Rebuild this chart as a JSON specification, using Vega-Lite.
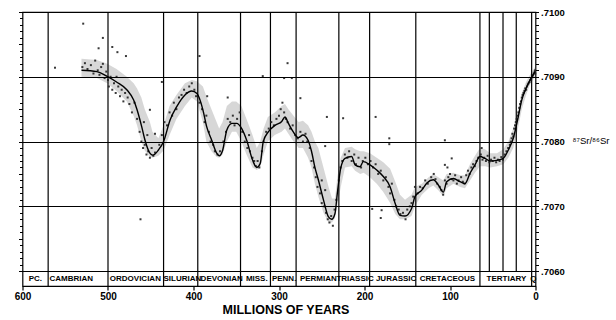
{
  "$schema": "https://vega.github.io/schema/vega-lite/v6.json",
  "width": 513,
  "height": 274,
  "autosize": {"type": "none"},
  "padding": {"left": 22.5, "top": 12, "right": 80.5, "bottom": 34},
  "background": "white",
  "config": {
    "view": {"stroke": "black", "strokeWidth": 1.2},
    "font": "Liberation Sans"
  },
  "datasets": {
    "curve": [
      {"ma":531,"sr":0.70910},{"ma":513,"sr":0.70908},{"ma":501.5,"sr":0.70901},{"ma":490,"sr":0.70892},{"ma":478,"sr":0.70880},{"ma":470,"sr":0.70864},{"ma":466,"sr":0.70849},{"ma":460.6,"sr":0.70823},{"ma":456.7,"sr":0.70802},{"ma":451,"sr":0.70782},{"ma":447.7,"sr":0.70779},{"ma":441,"sr":0.70787},{"ma":435,"sr":0.70800},{"ma":427.5,"sr":0.70833},{"ma":419.6,"sr":0.70854},{"ma":410,"sr":0.70872},{"ma":402,"sr":0.70878},{"ma":396,"sr":0.70874},{"ma":389,"sr":0.70849},{"ma":384.6,"sr":0.70823},{"ma":378.7,"sr":0.70802},{"ma":372.9,"sr":0.70782},{"ma":369.8,"sr":0.70778},{"ma":365.8,"sr":0.70787},{"ma":361,"sr":0.70818},{"ma":355,"sr":0.70828},{"ma":349.5,"sr":0.70828},{"ma":343.6,"sr":0.70820},{"ma":337.8,"sr":0.70802},{"ma":330.8,"sr":0.70771},{"ma":326,"sr":0.70760},{"ma":322,"sr":0.70766},{"ma":318.4,"sr":0.70800},{"ma":312.5,"sr":0.70815},{"ma":304.7,"sr":0.70825},{"ma":296.8,"sr":0.70831},{"ma":293,"sr":0.70838},{"ma":289,"sr":0.70828},{"ma":283.3,"sr":0.70815},{"ma":277.4,"sr":0.70806},{"ma":272,"sr":0.70810},{"ma":266,"sr":0.70802},{"ma":262,"sr":0.70785},{"ma":258,"sr":0.70760},{"ma":254,"sr":0.70741},{"ma":248,"sr":0.70710},{"ma":242.3,"sr":0.70684},{"ma":238.4,"sr":0.70680},{"ma":234.5,"sr":0.70689},{"ma":231.8,"sr":0.70720},{"ma":227.8,"sr":0.70759},{"ma":222.8,"sr":0.70774},{"ma":215,"sr":0.70777},{"ma":211,"sr":0.70764},{"ma":205.3,"sr":0.70761},{"ma":201.4,"sr":0.70769},{"ma":193.6,"sr":0.70764},{"ma":185.7,"sr":0.70756},{"ma":178,"sr":0.70746},{"ma":170,"sr":0.70730},{"ma":164.3,"sr":0.70705},{"ma":158.5,"sr":0.70686},{"ma":152.6,"sr":0.70685},{"ma":144.8,"sr":0.70697},{"ma":141,"sr":0.70715},{"ma":133,"sr":0.70725},{"ma":127,"sr":0.70736},{"ma":119.5,"sr":0.70741},{"ma":113.7,"sr":0.70733},{"ma":107.8,"sr":0.70722},{"ma":103.9,"sr":0.70738},{"ma":96,"sr":0.70743},{"ma":88.3,"sr":0.70738},{"ma":82.5,"sr":0.70735},{"ma":76.6,"sr":0.70751},{"ma":70.8,"sr":0.70764},{"ma":65,"sr":0.70777},{"ma":59,"sr":0.70774},{"ma":53.2,"sr":0.70770},{"ma":45.4,"sr":0.70771},{"ma":37.7,"sr":0.70774},{"ma":31.8,"sr":0.70787},{"ma":26,"sr":0.70805},{"ma":21.3,"sr":0.70831},{"ma":16.1,"sr":0.70864},{"ma":11.1,"sr":0.70882},{"ma":6.4,"sr":0.70895},{"ma":0.6,"sr":0.70908}
    ],
    "band": [
      {"ma":531,"lo":0.70900,"hi":0.70928},{"ma":513,"lo":0.70898,"hi":0.70926},{"ma":501,"lo":0.70890,"hi":0.70920},{"ma":490,"lo":0.70878,"hi":0.70912},{"ma":478,"lo":0.70862,"hi":0.70900},{"ma":470,"lo":0.70840,"hi":0.70890},{"ma":466,"lo":0.70825,"hi":0.70882},{"ma":461,"lo":0.70800,"hi":0.70868},{"ma":457,"lo":0.70786,"hi":0.70850},{"ma":451,"lo":0.70776,"hi":0.70830},{"ma":448,"lo":0.70775,"hi":0.70815},{"ma":441,"lo":0.70778,"hi":0.70805},{"ma":435,"lo":0.70786,"hi":0.70825},{"ma":428,"lo":0.70810,"hi":0.70855},{"ma":420,"lo":0.70835,"hi":0.70872},{"ma":410,"lo":0.70855,"hi":0.70890},{"ma":402,"lo":0.70868,"hi":0.70895},{"ma":396,"lo":0.70862,"hi":0.70893},{"ma":389,"lo":0.70830,"hi":0.70885},{"ma":385,"lo":0.70800,"hi":0.70870},{"ma":379,"lo":0.70785,"hi":0.70850},{"ma":373,"lo":0.70776,"hi":0.70830},{"ma":370,"lo":0.70775,"hi":0.70820},{"ma":366,"lo":0.70780,"hi":0.70830},{"ma":361,"lo":0.70800,"hi":0.70855},{"ma":355,"lo":0.70815,"hi":0.70862},{"ma":350,"lo":0.70815,"hi":0.70862},{"ma":344,"lo":0.70800,"hi":0.70855},{"ma":338,"lo":0.70780,"hi":0.70835},{"ma":331,"lo":0.70760,"hi":0.70810},{"ma":326,"lo":0.70756,"hi":0.70790},{"ma":322,"lo":0.70760,"hi":0.70800},{"ma":318,"lo":0.70780,"hi":0.70820},{"ma":313,"lo":0.70800,"hi":0.70838},{"ma":305,"lo":0.70810,"hi":0.70845},{"ma":297,"lo":0.70815,"hi":0.70855},{"ma":293,"lo":0.70820,"hi":0.70858},{"ma":289,"lo":0.70812,"hi":0.70850},{"ma":283,"lo":0.70800,"hi":0.70840},{"ma":277,"lo":0.70790,"hi":0.70830},{"ma":272,"lo":0.70790,"hi":0.70832},{"ma":266,"lo":0.70775,"hi":0.70825},{"ma":262,"lo":0.70760,"hi":0.70815},{"ma":258,"lo":0.70735,"hi":0.70800},{"ma":254,"lo":0.70715,"hi":0.70790},{"ma":248,"lo":0.70690,"hi":0.70760},{"ma":242,"lo":0.70675,"hi":0.70730},{"ma":238,"lo":0.70675,"hi":0.70712},{"ma":234.5,"lo":0.70682,"hi":0.70712},{"ma":231.8,"lo":0.70700,"hi":0.70745},{"ma":227.8,"lo":0.70730,"hi":0.70775},{"ma":222.8,"lo":0.70760,"hi":0.70790},{"ma":215,"lo":0.70762,"hi":0.70792},{"ma":211,"lo":0.70755,"hi":0.70788},{"ma":205,"lo":0.70750,"hi":0.70785},{"ma":201,"lo":0.70752,"hi":0.70785},{"ma":193.6,"lo":0.70745,"hi":0.70782},{"ma":185.7,"lo":0.70735,"hi":0.70775},{"ma":178,"lo":0.70722,"hi":0.70768},{"ma":170,"lo":0.70705,"hi":0.70758},{"ma":164,"lo":0.70688,"hi":0.70738},{"ma":158.5,"lo":0.70680,"hi":0.70718},{"ma":152.6,"lo":0.70680,"hi":0.70710},{"ma":145,"lo":0.70685,"hi":0.70718},{"ma":141,"lo":0.70700,"hi":0.70730},{"ma":133,"lo":0.70718,"hi":0.70735},{"ma":125,"lo":0.70728,"hi":0.70745},{"ma":119.5,"lo":0.70732,"hi":0.70750},{"ma":113.7,"lo":0.70725,"hi":0.70745},{"ma":107.8,"lo":0.70715,"hi":0.70740},{"ma":104,"lo":0.70728,"hi":0.70750},{"ma":96,"lo":0.70735,"hi":0.70752},{"ma":88,"lo":0.70730,"hi":0.70748},{"ma":82.5,"lo":0.70728,"hi":0.70748},{"ma":76.6,"lo":0.70740,"hi":0.70765},{"ma":70.8,"lo":0.70752,"hi":0.70778},{"ma":65,"lo":0.70762,"hi":0.70790},{"ma":59,"lo":0.70762,"hi":0.70788},{"ma":53,"lo":0.70760,"hi":0.70782},{"ma":45,"lo":0.70762,"hi":0.70782},{"ma":37.7,"lo":0.70765,"hi":0.70788},{"ma":31.8,"lo":0.70775,"hi":0.70800},{"ma":26,"lo":0.70790,"hi":0.70820},{"ma":21.3,"lo":0.70815,"hi":0.70845},{"ma":16,"lo":0.70850,"hi":0.70875},{"ma":11,"lo":0.70872,"hi":0.70892},{"ma":6.4,"lo":0.70888,"hi":0.70903},{"ma":0.6,"lo":0.70900,"hi":0.70915}
    ],
    "pts": [
      {"ma":529,"sr":0.70982},{"ma":506,"sr":0.70960},{"ma":511,"sr":0.70944},{"ma":495,"sr":0.70946},{"ma":489,"sr":0.70938},{"ma":479,"sr":0.70932},{"ma":562,"sr":0.70914},{"ma":393,"sr":0.70932},{"ma":290,"sr":0.70921},{"ma":319,"sr":0.70901},{"ma":294,"sr":0.70898},{"ma":285,"sr":0.70898},{"ma":437,"sr":0.70892},{"ma":275,"sr":0.70867},{"ma":244,"sr":0.70838},{"ma":225,"sr":0.70836},{"ma":187,"sr":0.70838},{"ma":171,"sr":0.70805},{"ma":171,"sr":0.70796},{"ma":106,"sr":0.70802},{"ma":246,"sr":0.70793},{"ma":462,"sr":0.70680},{"ma":191,"sr":0.70696},{"ma":180,"sr":0.70694},{"ma":181,"sr":0.70682},
      {"ma":530,"sr":0.70915},{"ma":527,"sr":0.70921},{"ma":524,"sr":0.70912},{"ma":520,"sr":0.70918},{"ma":517,"sr":0.70905},{"ma":515,"sr":0.70925},{"ma":512,"sr":0.70910},{"ma":510,"sr":0.70903},{"ma":508,"sr":0.70915},{"ma":506,"sr":0.70920},{"ma":504,"sr":0.70898},{"ma":502,"sr":0.70908},{"ma":500,"sr":0.70895},{"ma":499,"sr":0.70885},{"ma":497,"sr":0.70900},{"ma":495,"sr":0.70880},{"ma":493,"sr":0.70890},{"ma":491,"sr":0.70875},{"ma":490,"sr":0.70900},{"ma":488,"sr":0.70885},{"ma":486,"sr":0.70870},{"ma":484,"sr":0.70880},{"ma":482,"sr":0.70862},{"ma":480,"sr":0.70875},{"ma":477,"sr":0.70868},{"ma":475,"sr":0.70858},{"ma":472,"sr":0.70845},{"ma":469,"sr":0.70860},
      {"ma":466,"sr":0.70835},{"ma":463,"sr":0.70815},{"ma":461,"sr":0.70800},{"ma":459,"sr":0.70790},{"ma":457,"sr":0.70795},{"ma":455,"sr":0.70780},{"ma":453,"sr":0.70785},{"ma":451,"sr":0.70775},{"ma":449,"sr":0.70790},{"ma":447,"sr":0.70778},{"ma":445,"sr":0.70783},{"ma":458,"sr":0.70830},{"ma":454,"sr":0.70810},{"ma":451,"sr":0.70849},{"ma":445,"sr":0.70812},
      {"ma":440,"sr":0.70795},{"ma":437,"sr":0.70810},{"ma":434,"sr":0.70830},{"ma":431,"sr":0.70825},{"ma":428,"sr":0.70845},{"ma":425,"sr":0.70840},{"ma":423,"sr":0.70860},{"ma":420,"sr":0.70850},{"ma":417,"sr":0.70868},{"ma":414,"sr":0.70872},{"ma":411,"sr":0.70880},{"ma":408,"sr":0.70875},{"ma":405,"sr":0.70885},{"ma":402,"sr":0.70890},{"ma":399,"sr":0.70880},{"ma":397,"sr":0.70870},
      {"ma":393,"sr":0.70860},{"ma":390,"sr":0.70850},{"ma":387,"sr":0.70830},{"ma":385,"sr":0.70840},{"ma":382,"sr":0.70815},{"ma":380,"sr":0.70800},{"ma":377,"sr":0.70795},{"ma":375,"sr":0.70785},{"ma":372,"sr":0.70780},{"ma":369,"sr":0.70785},{"ma":384,"sr":0.70870},
      {"ma":365,"sr":0.70800},{"ma":362,"sr":0.70815},{"ma":360,"sr":0.70835},{"ma":357,"sr":0.70830},{"ma":354,"sr":0.70840},{"ma":352,"sr":0.70825},{"ma":349,"sr":0.70835},{"ma":346,"sr":0.70845},{"ma":343,"sr":0.70815},{"ma":360,"sr":0.70868},
      {"ma":340,"sr":0.70800},{"ma":337,"sr":0.70790},{"ma":334,"sr":0.70785},{"ma":331,"sr":0.70775},{"ma":329,"sr":0.70770},{"ma":327,"sr":0.70762},{"ma":325,"sr":0.70770},{"ma":323,"sr":0.70760},{"ma":335,"sr":0.70810},
      {"ma":320,"sr":0.70785},{"ma":318,"sr":0.70800},{"ma":315,"sr":0.70815},{"ma":312,"sr":0.70820},{"ma":309,"sr":0.70830},{"ma":306,"sr":0.70825},{"ma":303,"sr":0.70835},{"ma":300,"sr":0.70840},{"ma":298,"sr":0.70850},{"ma":296,"sr":0.70860},{"ma":294,"sr":0.70845},{"ma":292,"sr":0.70835},{"ma":290,"sr":0.70830},{"ma":287,"sr":0.70820},{"ma":284,"sr":0.70825},{"ma":281,"sr":0.70810},{"ma":278,"sr":0.70805},{"ma":275,"sr":0.70815},{"ma":272,"sr":0.70800},{"ma":269,"sr":0.70812},{"ma":267,"sr":0.70800},
      {"ma":264,"sr":0.70790},{"ma":262,"sr":0.70770},{"ma":259,"sr":0.70760},{"ma":257,"sr":0.70745},{"ma":255,"sr":0.70730},{"ma":252,"sr":0.70720},{"ma":250,"sr":0.70705},{"ma":247,"sr":0.70700},{"ma":245,"sr":0.70690},{"ma":243,"sr":0.70680},{"ma":241,"sr":0.70675},{"ma":239,"sr":0.70685},{"ma":237,"sr":0.70670},{"ma":235,"sr":0.70695},{"ma":233,"sr":0.70710},{"ma":250,"sr":0.70740},{"ma":246,"sr":0.70725},
      {"ma":230,"sr":0.70740},{"ma":228,"sr":0.70760},{"ma":226,"sr":0.70770},{"ma":223,"sr":0.70780},{"ma":220,"sr":0.70775},{"ma":218,"sr":0.70785},{"ma":215,"sr":0.70770},{"ma":212,"sr":0.70780},{"ma":210,"sr":0.70765},{"ma":207,"sr":0.70775},{"ma":204,"sr":0.70760},{"ma":202,"sr":0.70770},{"ma":199,"sr":0.70775},{"ma":196,"sr":0.70765},
      {"ma":193,"sr":0.70770},{"ma":190,"sr":0.70760},{"ma":187,"sr":0.70765},{"ma":184,"sr":0.70750},{"ma":181,"sr":0.70755},{"ma":178,"sr":0.70740},{"ma":175,"sr":0.70745},{"ma":172,"sr":0.70730},{"ma":170,"sr":0.70720},{"ma":168,"sr":0.70735},{"ma":165,"sr":0.70710},{"ma":163,"sr":0.70700},{"ma":160,"sr":0.70695},{"ma":158,"sr":0.70688},{"ma":155,"sr":0.70690},{"ma":152,"sr":0.70680},{"ma":150,"sr":0.70695},{"ma":147,"sr":0.70700},{"ma":145,"sr":0.70705},{"ma":143,"sr":0.70715},{"ma":141,"sr":0.70730},
      {"ma":138,"sr":0.70720},{"ma":135,"sr":0.70730},{"ma":132,"sr":0.70728},{"ma":129,"sr":0.70740},{"ma":126,"sr":0.70735},{"ma":122,"sr":0.70745},{"ma":119,"sr":0.70750},{"ma":117,"sr":0.70742},{"ma":115,"sr":0.70735},{"ma":112,"sr":0.70730},{"ma":110,"sr":0.70725},{"ma":108,"sr":0.70718},{"ma":106,"sr":0.70740},{"ma":104,"sr":0.70735},{"ma":102,"sr":0.70745},{"ma":100,"sr":0.70750},{"ma":98,"sr":0.70742},{"ma":96,"sr":0.70740},{"ma":94,"sr":0.70748},{"ma":92,"sr":0.70735},{"ma":90,"sr":0.70740},{"ma":87,"sr":0.70745},{"ma":85,"sr":0.70738},{"ma":83,"sr":0.70735},{"ma":81,"sr":0.70748},{"ma":79,"sr":0.70755},{"ma":77,"sr":0.70750},{"ma":75,"sr":0.70760},{"ma":73,"sr":0.70765},{"ma":71,"sr":0.70762},{"ma":69,"sr":0.70770},{"ma":67,"sr":0.70775},{"ma":106,"sr":0.70764},{"ma":98,"sr":0.70774},{"ma":103,"sr":0.70760},
      {"ma":64,"sr":0.70780},{"ma":63,"sr":0.70790},{"ma":62,"sr":0.70772},{"ma":60,"sr":0.70775},{"ma":58,"sr":0.70770},{"ma":56,"sr":0.70778},{"ma":54,"sr":0.70768},{"ma":52,"sr":0.70772},{"ma":50,"sr":0.70770},{"ma":48,"sr":0.70775},{"ma":46,"sr":0.70768},{"ma":44,"sr":0.70772},{"ma":42,"sr":0.70770},{"ma":40,"sr":0.70776},{"ma":38,"sr":0.70772},{"ma":36,"sr":0.70780},{"ma":34,"sr":0.70785},{"ma":32,"sr":0.70790},{"ma":30,"sr":0.70795},{"ma":29,"sr":0.70800},{"ma":28,"sr":0.70805},{"ma":27,"sr":0.70812},{"ma":26,"sr":0.70808},{"ma":25,"sr":0.70820},{"ma":24,"sr":0.70825},{"ma":23,"sr":0.70830},{"ma":22,"sr":0.70835},{"ma":21,"sr":0.70840},{"ma":20,"sr":0.70845},{"ma":19,"sr":0.70852},{"ma":18,"sr":0.70858},{"ma":17,"sr":0.70862},{"ma":16,"sr":0.70868},{"ma":15,"sr":0.70872},{"ma":14,"sr":0.70875},{"ma":13,"sr":0.70878},{"ma":12,"sr":0.70882},{"ma":11,"sr":0.70880},{"ma":10,"sr":0.70885},{"ma":9,"sr":0.70888},{"ma":8,"sr":0.70890},{"ma":7,"sr":0.70892},{"ma":6,"sr":0.70895},{"ma":5,"sr":0.70898},{"ma":4,"sr":0.70900},{"ma":3,"sr":0.70902},{"ma":2,"sr":0.70905},{"ma":1,"sr":0.70908},{"ma":0.5,"sr":0.70910},{"ma":0.3,"sr":0.70905}
    ],
    "fullLines": [{"ma":570},{"ma":500},{"ma":435},{"ma":395},{"ma":345},{"ma":310},{"ma":280},{"ma":230},{"ma":194},{"ma":140},{"ma":65},{"ma":4.5}],
    "epochLines": [{"ma":54},{"ma":38},{"ma":22.5}],
    "labels": [
      {"ma":585,"name":"PC."},{"ma":543,"name":"CAMBRIAN"},{"ma":468,"name":"ORDOVICIAN"},{"ma":413,"name":"SILURIAN"},{"ma":367,"name":"DEVONIAN"},{"ma":326,"name":"MISS."},{"ma":294,"name":"PENN."},{"ma":254,"name":"PERMIAN"},{"ma":211,"name":"TRIASSIC"},{"ma":163,"name":"JURASSIC"},{"ma":103,"name":"CRETACEOUS"},{"ma":34,"name":"TERTIARY"},{"ma":2.6,"name":"Q"}
    ]
  },
  "resolve": {"axis": {"y": "independent"}},
  "layer": [
    {
      "data": {"name": "band"},
      "mark": {"type": "area", "color": "#cdcdcd", "opacity": 0.8},
      "encoding": {
        "x": {"field": "ma", "type": "quantitative", "scale": {"domain": [0, 600], "reverse": true, "nice": false, "zero": false},
          "axis": {"orient": "bottom", "values": [0,100,200,300,400,500,600], "domain": false, "grid": false, "tickSize": 4, "tickColor": "black", "tickWidth": 1.2, "labelFont": "Liberation Sans", "labelFontWeight": "bold", "labelFontSize": 10, "labelColor": "black", "labelPadding": 1, "labelFlush": false, "title": "MILLIONS OF YEARS", "titleFont": "Liberation Sans", "titleFontSize": 12.5, "titleFontWeight": "bold", "titleColor": "black", "titlePadding": 2, "titleX": 263}},
        "y": {"field": "lo", "type": "quantitative", "scale": {"domain": [0.70577, 0.7100], "nice": false, "zero": false},
          "axis": {"orient": "left", "values": [0.706,0.7061,0.7062,0.7063,0.7064,0.7065,0.7066,0.7067,0.7068,0.7069,0.707,0.7071,0.7072,0.7073,0.7074,0.7075,0.7076,0.7077,0.7078,0.7079,0.708,0.7081,0.7082,0.7083,0.7084,0.7085,0.7086,0.7087,0.7088,0.7089,0.709,0.7091,0.7092,0.7093,0.7094,0.7095,0.7096,0.7097,0.7098,0.7099,0.71],
            "labels": false, "domain": false, "title": null, "tickColor": "black", "tickWidth": 1,
            "tickSize": {"condition": {"test": "round(datum.value*10000) % 5 == 0", "value": 4}, "value": 3},
            "grid": true, "gridColor": "black", "gridWidth": 1.2,
            "gridOpacity": {"condition": {"test": "round(datum.value*10000) % 10 == 0", "value": 1}, "value": 0},
            "zindex": 1}},
        "y2": {"field": "hi"}
      }
    },
    {
      "data": {"name": "fullLines"},
      "mark": {"type": "rule", "color": "black", "strokeWidth": 1.2},
      "encoding": {
        "x": {"field": "ma", "type": "quantitative", "scale": {"domain": [0, 600], "reverse": true, "nice": false, "zero": false}}
      }
    },
    {
      "data": {"name": "epochLines"},
      "mark": {"type": "rule", "color": "black", "strokeWidth": 1.2},
      "encoding": {
        "x": {"field": "ma", "type": "quantitative", "scale": {"domain": [0, 600], "reverse": true, "nice": false, "zero": false}},
        "y": {"datum": 0.706, "type": "quantitative", "axis": null},
        "y2": {"datum": 0.71}
      }
    },
    {
      "data": {"name": "pts"},
      "mark": {"type": "square", "color": "#222222", "size": 4, "opacity": 0.9},
      "encoding": {
        "x": {"field": "ma", "type": "quantitative", "scale": {"domain": [0, 600], "reverse": true, "nice": false, "zero": false}},
        "y": {"field": "sr", "type": "quantitative", "axis": null}
      }
    },
    {
      "data": {"name": "curve"},
      "mark": {"type": "line", "color": "black", "strokeWidth": 1.4, "interpolate": "monotone"},
      "encoding": {
        "x": {"field": "ma", "type": "quantitative", "scale": {"domain": [0, 600], "reverse": true, "nice": false, "zero": false}},
        "y": {"field": "sr", "type": "quantitative",
          "axis": {"orient": "right", "values": [0.706,0.7061,0.7062,0.7063,0.7064,0.7065,0.7066,0.7067,0.7068,0.7069,0.707,0.7071,0.7072,0.7073,0.7074,0.7075,0.7076,0.7077,0.7078,0.7079,0.708,0.7081,0.7082,0.7083,0.7084,0.7085,0.7086,0.7087,0.7088,0.7089,0.709,0.7091,0.7092,0.7093,0.7094,0.7095,0.7096,0.7097,0.7098,0.7099,0.71],
            "labelExpr": "round(datum.value*10000) % 10 == 0 ? substring(format(datum.value, '.4f'), 1) : ''",
            "domain": false, "grid": false, "tickColor": "black", "tickSize": 3, "tickWidth": 1,
            "labelFont": "Liberation Sans", "labelFontWeight": "bold", "labelFontSize": 9.5, "labelColor": "black", "labelPadding": 2, "labelFlush": false,
            "title": "⁸⁷Sr/⁸⁶Sr", "titleAngle": 0, "titleX": 55, "titleY": 128, "titleAlign": "center", "titleBaseline": "middle",
            "titleFont": "Liberation Sans", "titleFontSize": 9.5, "titleFontWeight": "normal", "titleColor": "black"}}
      }
    },
    {
      "data": {"name": "labels"},
      "mark": {"type": "text", "font": "Liberation Sans", "fontWeight": "bold", "fontSize": 8, "color": "black", "align": "center", "baseline": "middle"},
      "encoding": {
        "x": {"field": "ma", "type": "quantitative", "scale": {"domain": [0, 600], "reverse": true, "nice": false, "zero": false}},
        "y": {"datum": 0.70588, "type": "quantitative", "axis": null},
        "text": {"field": "name"}
      }
    }
  ]
}
